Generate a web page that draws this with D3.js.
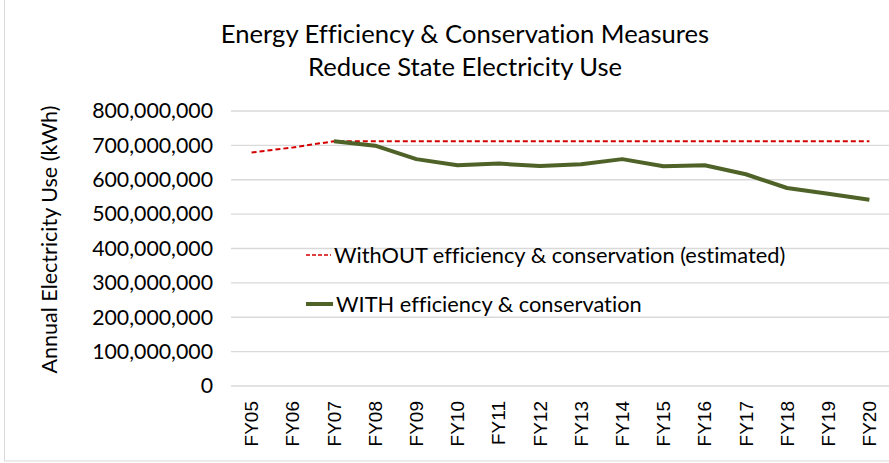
<!DOCTYPE html>
<html>
<head>
<meta charset="utf-8">
<script src="https://cdn.jsdelivr.net/npm/d3@7"></script>
<style>
  body { margin: 0; background: #fff; }
  svg { display: block; font-variant-ligatures: none; }
  .tick text { font-family: Lato, sans-serif; fill: #000; }
</style>
</head>
<body>
<script>
// chart data
var years = ['FY05','FY06','FY07','FY08','FY09','FY10','FY11','FY12','FY13','FY14','FY15','FY16','FY17','FY18','FY19','FY20'];
var withoutValues = [679e6, 694e6, 712e6, 712e6, 712e6, 712e6, 712e6, 712e6, 712e6, 712e6, 712e6, 712e6, 712e6, 712e6, 712e6, 712e6];
var withValues = [null, null, 712e6, 699e6, 660e6, 642e6, 647e6, 640e6, 645e6, 660e6, 639e6, 642e6, 616e6, 576e6, 559e6, 542e6];
var yTicks = [0, 100e6, 200e6, 300e6, 400e6, 500e6, 600e6, 700e6, 800e6];

const w = 889;
const h = 463;
const plotLeft = 231, plotRight = 890, plotTop = 111, plotBottom = 386;

var svg = d3.select('body').append('svg')
  .attr('width', w)
  .attr('height', h)

svg.append('rect')
  .attr('x', 4.5).attr('y', -1)
  .attr('width', w + 10).attr('height', h - 1)
  .attr('fill', 'none')
  .attr('stroke', '#d9d9d9')

var xScale = d3.scaleBand()
  .domain(years)
  .range([plotLeft, plotRight])

var yScale = d3.scaleLinear()
  .domain([0, 800e6])
  .range([plotBottom, plotTop])

// gridlines
svg.append('g')
  .selectAll('line')
  .data(yTicks)
  .enter()
  .append('line')
  .attr('x1', plotLeft)
  .attr('x2', plotRight)
  .attr('y1', d => yScale(d))
  .attr('y2', d => yScale(d))
  .attr('stroke', '#d9d9d9')
  .attr('stroke-width', 1.3)

var yAxis = d3.axisLeft(yScale)
  .tickValues(yTicks)
  .tickFormat(d3.format(','))
  .tickSize(0)
  .tickPadding(18)

svg.append('g')
  .attr('transform', 'translate(' + plotLeft + ',0)')
  .call(yAxis)
  .call(g => g.select('.domain').remove())
  .selectAll('text')
  .style('font-size', '21.3px')

var xAxis = d3.axisBottom(xScale).tickSize(0)

svg.append('g')
  .attr('transform', 'translate(0,' + plotBottom + ')')
  .call(xAxis)
  .call(g => g.select('.domain').remove())
  .selectAll('text')
  .style('font-family', '"Liberation Sans", Arial, sans-serif')
  .style('font-size', '19px')
  .attr('text-anchor', 'end')
  .attr('transform', 'translate(0,15) rotate(-90)')
  .attr('x', 0)
  .attr('y', 0)
  .attr('dy', '0.35em')

var line = d3.line()
  .defined(d => d[1] != null)
  .x(d => xScale(d[0]) + xScale.bandwidth() / 2)
  .y(d => yScale(d[1]))

svg.append('path')
  .datum(years.map((y, i) => [y, withoutValues[i]]))
  .attr('d', line)
  .attr('fill', 'none')
  .attr('stroke', '#d40000')
  .attr('stroke-width', 2)
  .attr('stroke-dasharray', '5,3')

svg.append('path')
  .datum(years.map((y, i) => [y, withValues[i]]))
  .attr('d', line)
  .attr('fill', 'none')
  .attr('stroke', '#4f6228')
  .attr('stroke-width', 4)
  .attr('stroke-linejoin', 'round')

// legend
var legend = svg.append('g').attr('font-family', 'Lato, sans-serif').attr('font-size', '21.8px')
legend.append('line')
  .attr('x1', 306).attr('x2', 331).attr('y1', 255).attr('y2', 255)
  .attr('stroke', '#d40000').attr('stroke-width', 1.5).attr('stroke-dasharray', '4,2')
legend.append('text')
  .attr('x', 334).attr('y', 255).attr('dy', '0.35em')
  .text('WithOUT efficiency & conservation (estimated)')
legend.append('line')
  .attr('x1', 306).attr('x2', 333).attr('y1', 304).attr('y2', 304)
  .attr('stroke', '#4f6228').attr('stroke-width', 4)
legend.append('text')
  .attr('x', 336).attr('y', 304).attr('dy', '0.35em')
  .text('WITH efficiency & conservation')

svg.append('text')
  .attr('text-anchor', 'middle')
  .attr('transform', 'translate(57,' + ((plotTop + plotBottom) / 2 - 9) + ')rotate(-90)')
  .attr('font-family', 'Lato, sans-serif')
  .attr('font-size', '21.5px')
  .text('Annual Electricity Use (kWh)')

var title = svg.append('text')
  .attr('text-anchor', 'middle')
  .attr('font-family', 'Lato, sans-serif')
  .attr('font-size', '25.6px')
title.append('tspan').attr('x', 465).attr('y', 43).text('Energy Efficiency & Conservation Measures')
title.append('tspan').attr('x', 465).attr('y', 76).text('Reduce State Electricity Use')
</script>
</body>
</html>
